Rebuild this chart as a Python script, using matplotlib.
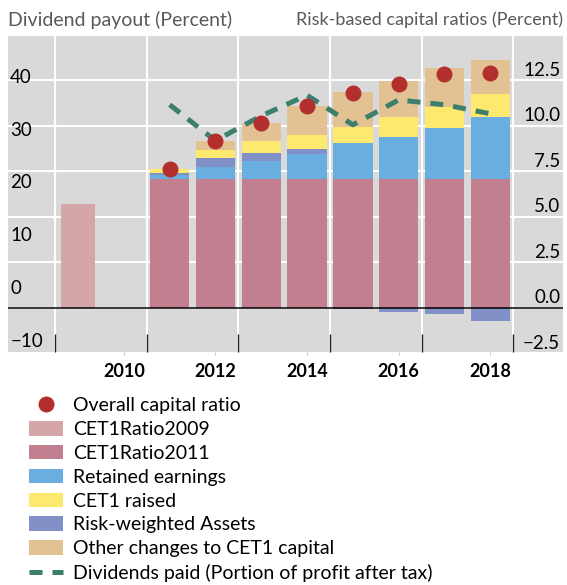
import numpy as np
import matplotlib
matplotlib.use("Agg")
import matplotlib.pyplot as plt
import matplotlib.transforms as mtransforms

plt.rcParams['font.family'] = ['Lato', 'DejaVu Sans']

# capital ratios (right scale, percent)
year_2009 = [2009]
cet1_2009 = [5.70]
years = [2011, 2012, 2013, 2014, 2015, 2016, 2017, 2018]
cet1_2011 = [7.07, 7.07, 7.07, 7.07, 7.07, 7.07, 7.07, 7.07]
retained = [0.23, 0.68, 1.02, 1.39, 1.98, 2.35, 2.82, 3.41]
rwa = [0.10, 0.49, 0.44, 0.26, -0.08, -0.23, -0.32, -0.74]
raised = [0.25, 0.44, 0.64, 0.77, 0.92, 1.08, 1.17, 1.30]
other = [0.0, 0.49, 1.00, 1.59, 1.90, 1.98, 2.12, 1.85]
overall = [7.63, 9.16, 10.14, 11.09, 11.82, 12.28, 12.88, 12.90]
# dividend payout (left scale, percent)
dividends = [36.8, 30.0, 34.7, 38.6, 33.0, 37.7, 36.8, 35.1]

left_ticks = [-10, 0, 10, 20, 30, 40]
right_ticks = [-2.5, 0.0, 2.5, 5.0, 7.5, 10.0, 12.5]
year_labels = [2010, 2012, 2014, 2016, 2018]
grid_x = [2008.5, 2010.5, 2012.5, 2014.5, 2016.5, 2018.5]

c_2009 = '#d5a6a7'
c_2011 = '#c27f8f'
c_ret = '#6aade0'
c_rwa = '#8290c8'
c_raised = '#fde96f'
c_other = '#e2c293'
c_dot = '#b22f2e'
c_div = '#3d7f6d'
bg = '#d9d9d9'

W, H = 567, 585
fig = plt.figure(figsize=(W / 100, H / 100), dpi=100)
ax = fig.add_axes([8 / W, 1 - 352 / H, (563 - 8) / W, (352 - 35) / H])
ax.set_facecolor(bg)
ax.set_xlim(2007.47, 2019.59)
ax.set_ylim(-2.42, 15)
for s in ax.spines.values():
    s.set_visible(False)

ax.set_yticks([0, 2.5, 5, 7.5, 10, 12.5, 15])
ax.set_yticklabels([])
ax.tick_params(axis='y', length=0)
ax.set_xticks(grid_x)
ax.set_xticklabels([])
ax.tick_params(axis='x', which='major', direction='in', length=13, width=1, color='#222222')
ax.set_xticks(year_labels, minor=True)
ax.set_xticklabels([str(y) for y in year_labels], minor=True, fontsize=13, fontweight='bold')
ax.tick_params(axis='x', which='minor', length=2, color='#bbbbbb', pad=6)
ax.grid(True, color='white', lw=1.5, zorder=0)
ax.set_axisbelow(True)

# stacked bars
ax.bar(year_2009, cet1_2009, width=0.74, color=c_2009, label='CET1Ratio2009', zorder=2)
pos = np.zeros(len(years))
neg = np.zeros(len(years))
bars = {}
for vals, col, lab in [(cet1_2011, c_2011, 'CET1Ratio2011'), (retained, c_ret, 'Retained earnings'),
                       (rwa, c_rwa, 'Risk-weighted Assets'), (raised, c_raised, 'CET1 raised'),
                       (other, c_other, 'Other changes to CET1 capital')]:
    v = np.array(vals)
    bottom = np.where(v >= 0, pos, neg)
    bars[lab] = ax.bar(years, v, bottom=bottom, width=0.86, color=col, label=lab, zorder=2)
    pos = pos + np.clip(v, 0, None)
    neg = neg + np.clip(v, None, 0)
ax.axhline(0, color='black', lw=1.1, zorder=3)

# right-scale labels inside the plot
tr = mtransforms.blended_transform_factory(ax.transAxes, ax.transData)
for t in right_ticks:
    s = f"{t:.1f}".replace('-', '\u2212')
    ax.text(0.995, t + 0.1, s, transform=tr, ha='right', va='bottom', fontsize=13.5, zorder=5)

# dividend line on left scale
axl = ax.twinx()
axl.set_ylim(-10, 50)
axl.axis('off')
line, = axl.plot(years, dividends, color=c_div, lw=3.6, dashes=(2.6, 2.0),
                 label='Dividends paid (Portion of profit after tax)')
trl = mtransforms.blended_transform_factory(axl.transAxes, axl.transData)
for t in left_ticks:
    s = str(t).replace('-', '\u2212')
    axl.text(0.004, t + 0.4, s, transform=trl, ha='left', va='bottom', fontsize=13.5)

# overall ratio dots on right scale, above the line
axd = ax.twinx()
axd.set_ylim(ax.get_ylim())
axd.axis('off')
dots, = axd.plot(years, overall, 'o', color=c_dot, ms=10.5, label='Overall capital ratio')

fig.text(8 / W, 1 - 20 / H, 'Dividend payout (Percent)', ha='left', va='center',
         fontsize=14, color='#595959')
fig.text(563 / W, 1 - 20 / H, 'Risk-based capital ratios (Percent)', ha='right', va='center',
         fontsize=13, color='#595959')

h_2009 = ax.containers[0]
handles = [dots, h_2009, bars['CET1Ratio2011'], bars['Retained earnings'], bars['CET1 raised'],
           bars['Risk-weighted Assets'], bars['Other changes to CET1 capital'], line]
labels = ['Overall capital ratio', 'CET1Ratio2009', 'CET1Ratio2011', 'Retained earnings',
          'CET1 raised', 'Risk-weighted Assets', 'Other changes to CET1 capital',
          'Dividends paid (Portion of profit after tax)']
fig.legend(handles, labels, loc='upper left', bbox_to_anchor=(29 / W, 1 - 397 / H),
           frameon=False, fontsize=14, handlelength=1.75, handleheight=0.78,
           handletextpad=0.5, labelspacing=0.35, borderpad=0, borderaxespad=0)

fig.savefig('out.png', dpi=100, facecolor='white')
